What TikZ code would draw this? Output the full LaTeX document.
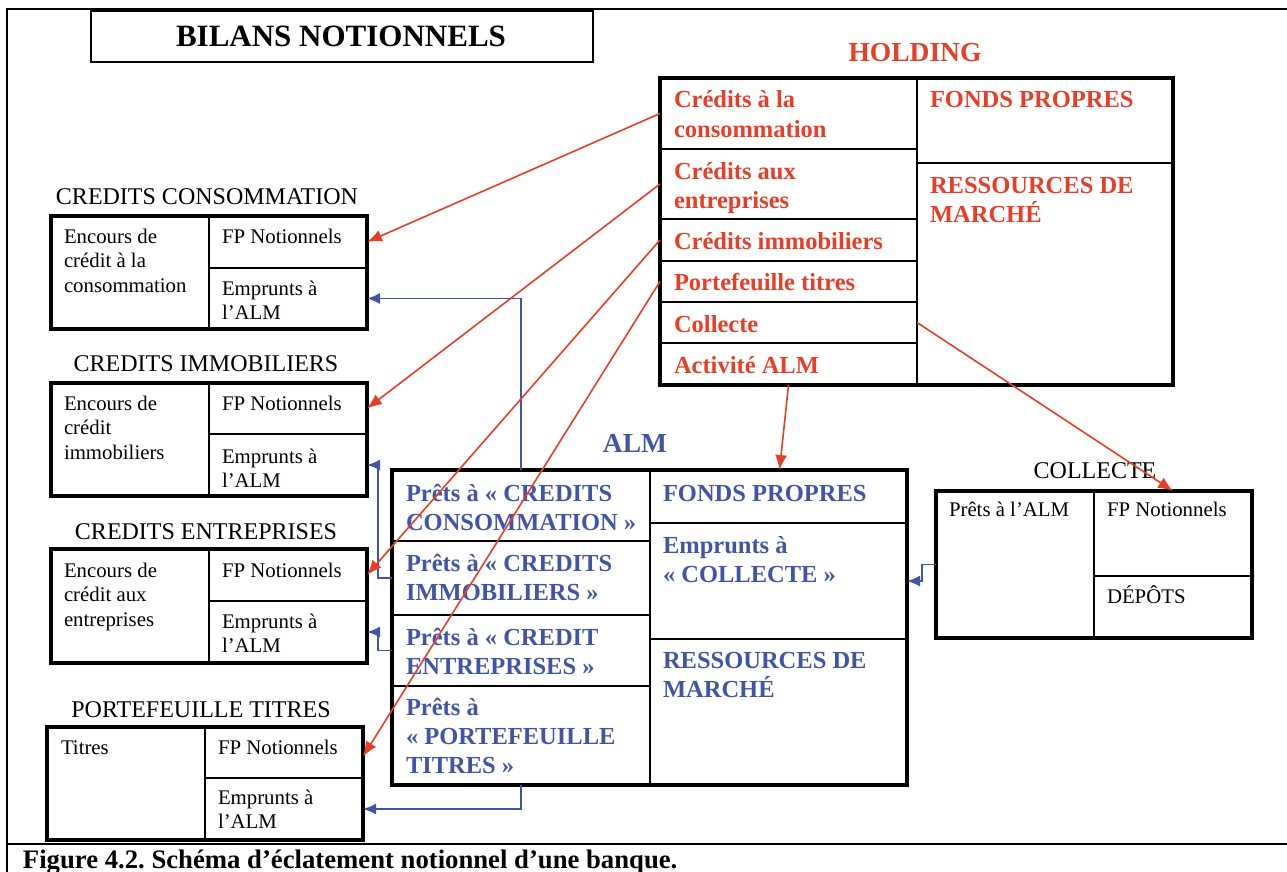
\documentclass[tikz,border=0pt]{standalone}
\usepackage{fontspec}
\setmainfont{Liberation Serif}
\usetikzlibrary{arrows.meta,calc}
\definecolor{hred}{RGB}{232,62,40}
\definecolor{ablue}{RGB}{66,84,166}
\frenchspacing
\begin{document}
\begin{tikzpicture}[x=1pt,y=-1pt,
  cell/.style={draw, line width=1.8pt, inner sep=0pt, outer sep=0pt, anchor=north west},
  boxframe/.style={draw, line width=3.8pt, inner sep=0pt, outer sep=0pt, anchor=north west},
  txt/.style={inner sep=0pt, outer sep=0pt, anchor=base west, align=left},
  ntxt/.style={txt, font=\fontsize{20.8}{24.5}\selectfont},
  lbl/.style={inner sep=0pt, anchor=base, font=\fontsize{24}{28}\selectfont},
  htxt/.style={txt, text=hred, font=\bfseries\fontsize{24.5}{29}\selectfont},
  atxt/.style={txt, text=ablue, font=\bfseries\fontsize{24.5}{29}\selectfont},
  redarr/.style={draw=hred, line width=1.6pt, -{Latex[length=15pt,width=12pt]}},
  bluearr/.style={draw=ablue, line width=1.6pt, -{Latex[length=13pt,width=11pt]}},
]
\useasboundingbox (0,0) rectangle (1287,872);
% outer frame
\draw[line width=2.5pt] (1287,9) -- (7,9) -- (7,872);
\draw[line width=2.5pt] (7,844) -- (1287,844);
% title
\node[draw, line width=2pt, inner sep=0pt, anchor=north west, minimum width=502, minimum height=51] (titlebox) at (90,10) {};
\node[inner sep=0pt, anchor=base, font=\bfseries\fontsize{31}{36}\selectfont] (title) at (341,47) {BILANS NOTIONNELS};

% HOLDING
\node[inner sep=0pt, anchor=base, text=hred, font=\bfseries\fontsize{27.5}{32}\selectfont] (holdlbl) at (915,62) {HOLDING};
\node[cell, minimum width=257, minimum height=71] (h1) at (660,78) {};
\node[cell, minimum width=257, minimum height=70] (h2) at (660,149) {};
\node[cell, minimum width=257, minimum height=42] (h3) at (660,219) {};
\node[cell, minimum width=257, minimum height=41] (h4) at (660,261) {};
\node[cell, minimum width=257, minimum height=41] (h5) at (660,302) {};
\node[cell, minimum width=257, minimum height=42] (h6) at (660,343) {};
\node[cell, minimum width=256, minimum height=85] (hfp) at (917,78) {};
\node[cell, minimum width=256, minimum height=222] (hrm) at (917,163) {};
\node[boxframe, minimum width=513, minimum height=307] (holding) at (660,78) {};
\node[htxt] (th1) at (674,137) {Crédits à la\\consommation};
\node[htxt] (th2) at (674,208) {Crédits aux\\entreprises};
\node[htxt] (th3) at (674,249) {Crédits immobiliers};
\node[htxt] (th4) at (674,290) {Portefeuille titres};
\node[htxt] (th5) at (674,332) {Collecte};
\node[htxt] (th6) at (674,373) {Activité ALM};
\node[htxt] (thfp) at (930,108) {FONDS PROPRES};
\node[htxt] (thrm) at (930,222) {RESSOURCES DE\\MARCHÉ};

% ALM
\node[inner sep=0pt, anchor=base, text=ablue, font=\bfseries\fontsize{27.5}{32}\selectfont] (almlbl) at (635,452) {ALM};
\node[cell, minimum width=258, minimum height=71] (a1) at (392,470) {};
\node[cell, minimum width=258, minimum height=74] (a2) at (392,541) {};
\node[cell, minimum width=258, minimum height=71] (a3) at (392,615) {};
\node[cell, minimum width=258, minimum height=99] (a4) at (392,686) {};
\node[cell, minimum width=257, minimum height=53] (afp) at (650,470) {};
\node[cell, minimum width=257, minimum height=116] (aemp) at (650,523) {};
\node[cell, minimum width=257, minimum height=146] (arm) at (650,639) {};
\node[boxframe, minimum width=515, minimum height=315] (alm) at (392,470) {};
\node[atxt] (ta1) at (406,530) {Prêts à « CREDITS\\CONSOMMATION »};
\node[atxt] (ta2) at (406,600) {Prêts à « CREDITS\\IMMOBILIERS »};
\node[atxt] (ta3) at (406,674) {Prêts à « CREDIT\\ENTREPRISES »};
\node[atxt] (ta4) at (406,773) {Prêts à\\« PORTEFEUILLE\\TITRES »};
\node[atxt] (tafp) at (663,501) {FONDS PROPRES};
\node[atxt] (taemp) at (663,582) {Emprunts à\\« COLLECTE »};
\node[atxt] (tarm) at (663,697) {RESSOURCES DE\\MARCHÉ};

% CREDITS CONSOMMATION
\node[lbl] (cclbl) at (207,204) {CREDITS CONSOMMATION};
\node[cell, minimum width=158, minimum height=113] (ccenc) at (51,216) {};
\node[cell, minimum width=158, minimum height=52] (ccfp) at (209,216) {};
\node[cell, minimum width=158, minimum height=61] (ccemp) at (209,268) {};
\node[boxframe, minimum width=316, minimum height=113] (ccbox) at (51,216) {};
\node[ntxt] (tccenc) at (64,292) {Encours de\\crédit à la\\consommation};
\node[ntxt] (tccfp) at (222,243) {FP Notionnels};
\node[ntxt] (tccemp) at (222,319.5) {Emprunts à\\l’ALM};

% CREDITS IMMOBILIERS
\node[lbl] (cilbl) at (206,371) {CREDITS IMMOBILIERS};
\node[cell, minimum width=158, minimum height=113] (cienc) at (51,383) {};
\node[cell, minimum width=158, minimum height=51] (cifp) at (209,383) {};
\node[cell, minimum width=158, minimum height=62] (ciemp) at (209,434) {};
\node[boxframe, minimum width=316, minimum height=113] (cibox) at (51,383) {};
\node[ntxt] (tcienc) at (64,459) {Encours de\\crédit\\immobiliers};
\node[ntxt] (tcifp) at (222,410) {FP Notionnels};
\node[ntxt] (tciemp) at (222,487.5) {Emprunts à\\l’ALM};

% CREDITS ENTREPRISES
\node[lbl] (celbl) at (206,539) {CREDITS ENTREPRISES};
\node[cell, minimum width=158, minimum height=114] (ceenc) at (51,549) {};
\node[cell, minimum width=158, minimum height=52] (cefp) at (209,549) {};
\node[cell, minimum width=158, minimum height=62] (ceemp) at (209,601) {};
\node[boxframe, minimum width=316, minimum height=114] (cebox) at (51,549) {};
\node[ntxt] (tceenc) at (64,626) {Encours de\\crédit aux\\entreprises};
\node[ntxt] (tcefp) at (222,577) {FP Notionnels};
\node[ntxt] (tceemp) at (222,652.5) {Emprunts à\\l’ALM};

% PORTEFEUILLE TITRES
\node[lbl] (ptlbl) at (201,717) {PORTEFEUILLE TITRES};
\node[cell, minimum width=158, minimum height=113] (pttit) at (47,727) {};
\node[cell, minimum width=158, minimum height=51] (ptfp) at (205,727) {};
\node[cell, minimum width=158, minimum height=62] (ptemp) at (205,778) {};
\node[boxframe, minimum width=316, minimum height=113] (ptbox) at (47,727) {};
\node[ntxt] (tpttit) at (61,754) {Titres};
\node[ntxt] (tptfp) at (218,754) {FP Notionnels};
\node[ntxt] (tptemp) at (218,828.5) {Emprunts à\\l’ALM};

% COLLECTE
\node[lbl] (colbl) at (1095,478) {COLLECTE};
\node[cell, minimum width=158, minimum height=147] (copr) at (936,491) {};
\node[cell, minimum width=158, minimum height=85] (cofp) at (1094,491) {};
\node[cell, minimum width=158, minimum height=62] (codep) at (1094,576) {};
\node[boxframe, minimum width=316, minimum height=147] (cobox) at (936,491) {};
\node[ntxt] (tcopr) at (949,516) {Prêts à l’ALM};
\node[ntxt] (tcofp) at (1107,516) {FP Notionnels};
\node[ntxt] (tcodep) at (1107,603) {DÉPÔTS};

% caption
\node[txt, font=\bfseries\fontsize{26.7}{30}\selectfont] (caption) at (23,868) {Figure 4.2. Schéma d’éclatement notionnel d’une banque.};

% blue connectors
\draw[bluearr] (a1.north) |- (ccemp.east);
\draw[bluearr] (a2.west) -- ++(-14,0) |- (ciemp.east);
\draw[bluearr] (a3.west) -- ++(-14,0) |- (ceemp.east);
\draw[bluearr] (a4.south) |- (ptemp.east);
\draw[bluearr] (copr.west) -- ++(-14,0) |- (aemp.east);

% red connectors
\draw[redarr] (h1.west) -- (ccfp.east);
\draw[redarr] (h2.west) -- (cifp.east);
\draw[redarr] (h3.west) -- (cefp.east);
\draw[redarr] (h4.west) -- ([yshift=-4pt]ptfp.east);
\draw[redarr] (h5.east) -- (cofp.north);
\draw[redarr] (h6.south) -- ([xshift=130pt]alm.north);
\end{tikzpicture}
\end{document}
